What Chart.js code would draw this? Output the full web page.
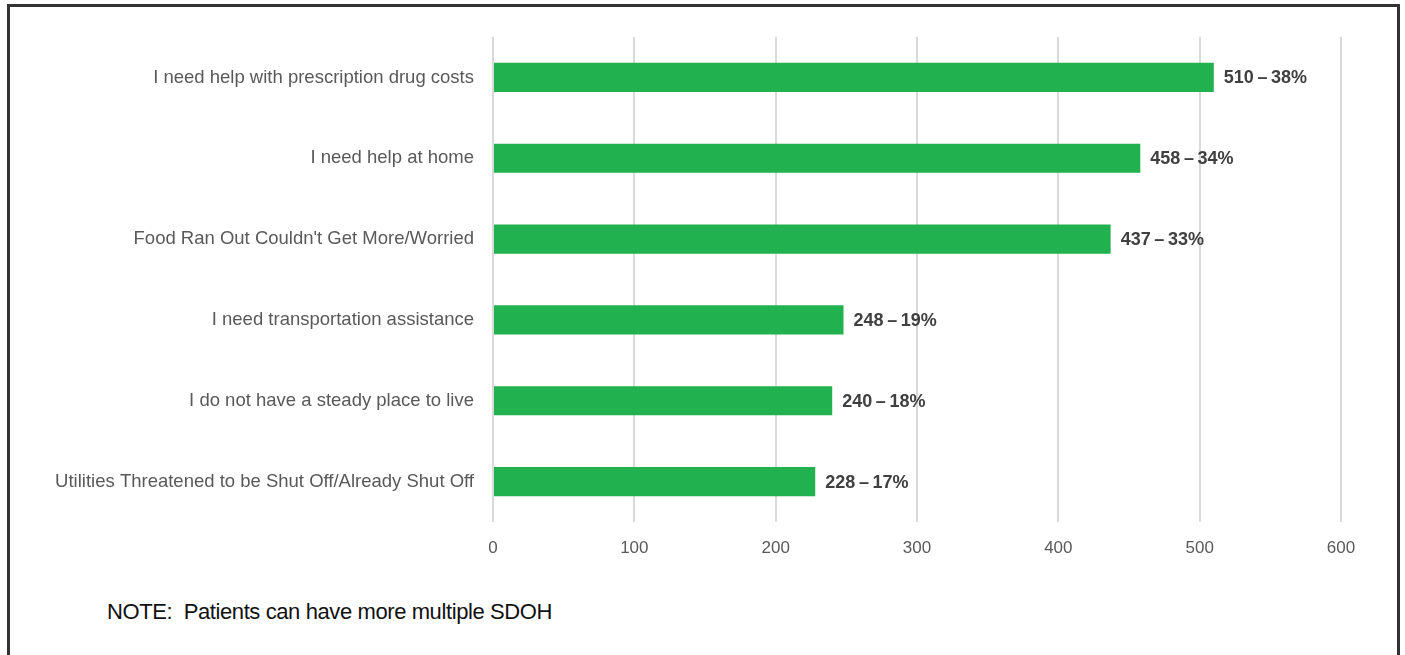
<!DOCTYPE html>
<html>
<head>
<meta charset="utf-8">
<script src="https://cdn.jsdelivr.net/npm/chart.js@4"></script>
<style>
  html, body { margin: 0; padding: 0; background: #fff; }
  body { width: 1405px; height: 655px; position: relative; overflow: hidden; }
  #frame {
    position: absolute; left: 7px; top: 4px; width: 1387px; height: 660px;
    border-top: 3px solid #333; border-left: 3px solid #333; border-right: 3px solid #333;
  }
  #wrap { position: absolute; left: 0; top: 0; width: 1405px; height: 570px; }
  #note {
    position: absolute; left: 107px; top: 599px;
    font-family: "Liberation Sans", Arial, sans-serif; font-size: 22px; color: #111;
    letter-spacing: -0.4px;
  }
</style>
</head>
<body>
<div id="frame"></div>
<div id="wrap"><canvas id="sdohChart"></canvas></div>
<div id="note">NOTE:&nbsp; Patients can have more multiple SDOH</div>

<script>
// categories and values
const categories = [
    "I need help with prescription drug costs",
    "I need help at home",
    "Food Ran Out Couldn't Get More/Worried",
    "I need transportation assistance",
    "I do not have a steady place to live",
    "Utilities Threatened to be Shut Off/Already Shut Off"
];
const patientCounts = [510, 458, 437, 248, 240, 228];
const patientPercents = [38, 34, 33, 19, 18, 17];
const xTicks = [0, 100, 200, 300, 400, 500, 600];

const fontFamily = '"Liberation Sans", Arial, sans-serif';

// labels "510 – 38%" next to each bar
const barLabels = {
    id: 'barLabels',
    afterDatasetsDraw(chart) {
        const ctx = chart.ctx;
        const meta = chart.getDatasetMeta(0);
        ctx.save();
        ctx.font = 'bold 18px ' + fontFamily;
        ctx.fillStyle = '#404040';
        ctx.textAlign = 'left';
        ctx.textBaseline = 'middle';
        meta.data.forEach((bar, i) => {
            const txt = patientCounts[i] + '\u2009\u2013\u2009' + patientPercents[i] + '%';
            ctx.fillText(txt, bar.x + 10, bar.y + 1);
        });
        ctx.restore();
    }
};

const ctx = document.getElementById('sdohChart').getContext('2d');
const sdohChart = new Chart(ctx, {
    type: 'bar',
    data: {
        labels: categories,
        datasets: [{
            data: patientCounts,
            backgroundColor: '#21B14F',
            borderWidth: 0,
            categoryPercentage: 1,
            barPercentage: 0.36
        }]
    },
    options: {
        indexAxis: 'y',
        responsive: true,
        maintainAspectRatio: false,
        animation: false,
        layout: { padding: { top: 37, right: 64, left: 0, bottom: 0 } },
        plugins: {
            legend: { display: false },
            tooltip: { enabled: false }
        },
        scales: {
            x: {
                min: 0,
                max: 600,
                afterBuildTicks: (scale) => { scale.ticks = xTicks.map(v => ({ value: v })); },
                grid: { color: '#d9d9d9', lineWidth: 2, drawTicks: false },
                border: { display: false },
                ticks: {
                    color: '#595959',
                    padding: 16,
                    font: { family: fontFamily, size: 17 }
                },
                afterFit: (scale) => { scale.height = 48; }
            },
            y: {
                grid: { display: false },
                border: { display: false },
                ticks: {
                    color: '#595959',
                    padding: 11,
                    font: { family: fontFamily, size: 18.5 }
                },
                afterFit: (scale) => { scale.width = 493; }
            }
        }
    },
    plugins: [barLabels]
});
</script>
</body>
</html>
